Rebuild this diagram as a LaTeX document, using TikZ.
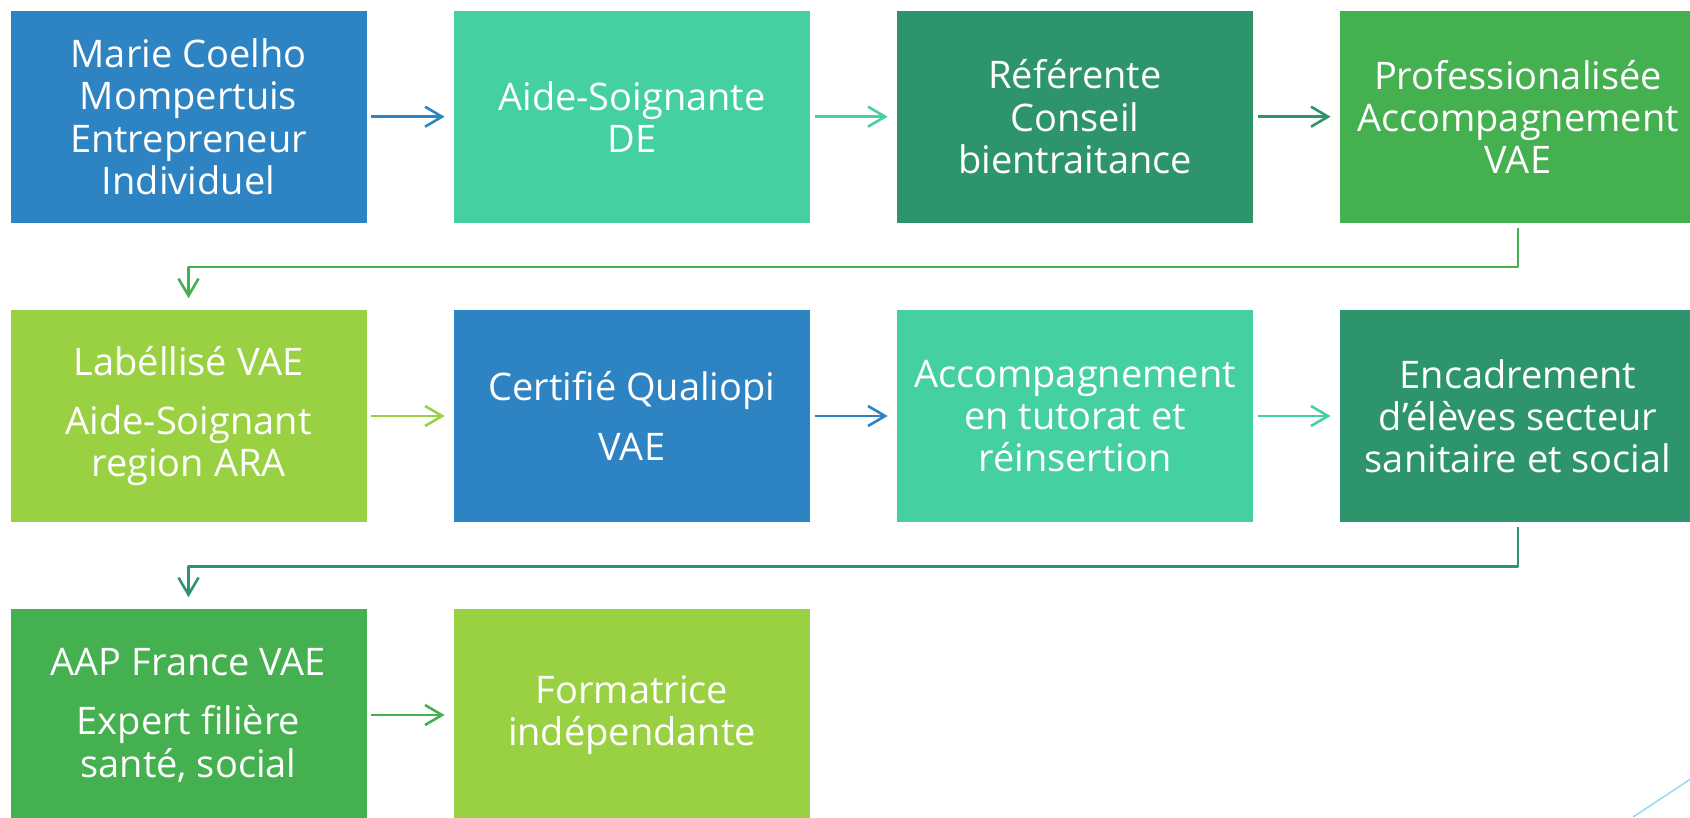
\documentclass[tikz,border=0pt]{standalone}
\usepackage{fontspec}
\setmainfont{Open Sans}
\usetikzlibrary{arrows.meta}
\definecolor{cblue}{HTML}{2E83C3}
\definecolor{cteal}{HTML}{44D0A0}
\definecolor{cdkgreen}{HTML}{2E946C}
\definecolor{cgreen}{HTML}{44B050}
\definecolor{clime}{HTML}{99D142}
\definecolor{csky}{HTML}{8DD7F2}
\begin{document}
\begin{tikzpicture}[x=1pt,y=-1pt,line join=round,
  box/.style={rectangle,minimum width=178pt,minimum height=106pt,inner sep=0pt,text=white,align=center,font=\fontsize{19}{21.1}\selectfont},
  flow/.style={line width=1.3pt,-{Straight Barb[length=8.5pt,width=10pt]},shorten <=2.25pt,shorten >=4.5pt}]
  \useasboundingbox (0,0) rectangle (845,409);
  % first row
  \node[box,fill=cblue] (marie) at (94.25,58.35) {Marie Coelho\\Mompertuis\\Entrepreneur\\Individuel};
  \node[box,fill=cteal] (aide) at (316,58.35) {Aide-Soignante\\DE};
  \node[box,fill=cdkgreen] (ref) at (537.5,58.35) {Référente\\Conseil\\bientraitance};
  \node[box,fill=cgreen] (pro) at (759,58.35) {Professionalisée\\Accompagnement\\VAE};
  % second row
  \node[box,fill=clime] (label) at (94.25,208) {Labéllisé VAE\\[8.7pt]Aide-Soignant\\region ARA};
  \node[box,fill=cblue] (quali) at (316,208) {Certifié Qualiopi\\[8.7pt]VAE};
  \node[box,fill=cteal] (tutorat) at (537.5,208) {Accompagnement\\en tutorat et\\réinsertion};
  \node[box,fill=cdkgreen] (encad) at (759,208) {Encadrement\\d’élèves secteur\\sanitaire et social};
  % third row
  \node[box,fill=cgreen] (aap) at (94.25,357.5) {AAP France VAE\\[8.7pt]Expert filière\\santé, social};
  \node[box,fill=clime] (forma) at (316,357.5) {Formatrice\\indépendante};
  % arrows
  \draw[flow,cblue] (marie) -- (aide);
  \draw[flow,cteal] (aide) -- (ref);
  \draw[flow,cdkgreen] (ref) -- (pro);
  \draw[flow,cgreen,shorten >=5.7pt] (pro.south) -- ++(0,21.9) -| (label.north);
  \draw[flow,clime] (label) -- (quali);
  \draw[flow,cblue] (quali) -- (tutorat);
  \draw[flow,cteal] (tutorat) -- (encad);
  \draw[flow,cdkgreen,shorten >=5.7pt] (encad.south) -- ++(0,21.9) -| (aap.north);
  \draw[flow,cgreen] (aap) -- (forma);
  % corner line
  \draw[csky,line width=0.7pt] (816.7,408.4) -- (845,389.7);
\end{tikzpicture}
\end{document}
